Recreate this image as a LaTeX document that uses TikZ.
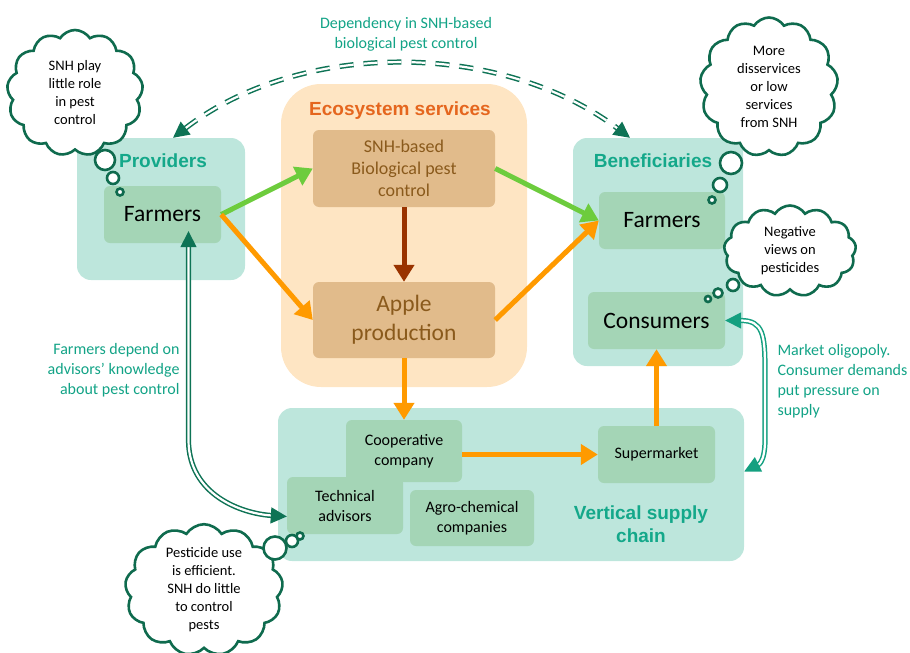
\documentclass[tikz,border=0pt]{standalone}
\usepackage{fontspec}
\setmainfont{Carlito}
\newfontfamily\headfont{Liberation Sans}
\usepackage{tikz}
\usetikzlibrary{shapes,arrows.meta}
\definecolor{groupTeal}{HTML}{BDE6DC}
\definecolor{actorGreen}{HTML}{A4D5B6}
\definecolor{esPeach}{HTML}{FEE5C3}
\definecolor{esTan}{HTML}{E1BB8B}
\definecolor{esText}{HTML}{8A5A1C}
\definecolor{esHead}{HTML}{E5661E}
\definecolor{tealHead}{HTML}{14A88A}
\definecolor{tealNote}{HTML}{12A386}
\definecolor{cloudGreen}{HTML}{0F6B4E}
\definecolor{linkGreen}{HTML}{0E7355}
\definecolor{linkLight}{HTML}{14A080}
\definecolor{flowGreen}{HTML}{6DCC3D}
\definecolor{flowOrange}{HTML}{FF9A00}
\definecolor{flowRed}{HTML}{993300}
\tikzstyle{group} = [rectangle, fill=groupTeal, rounded corners=14pt, inner sep=0pt]
\tikzstyle{actor} = [rectangle, fill=actorGreen, rounded corners=6pt,
align=center, inner sep=0pt, font=\fontsize{16}{20}\selectfont]
\tikzstyle{line} = [draw, line width=5pt, -{Triangle[length=17pt,width=20pt]}]
\tikzset{
  service/.style = {actor, fill=esTan, text=esText},
  big/.style     = {font=\fontsize{23.5}{29}\selectfont},
  head/.style    = {font=\headfont\bfseries\fontsize{19}{23}\selectfont,
                    text=tealHead, align=center},
  note/.style    = {font=\fontsize{16}{20}\selectfont, text=tealNote},
  thought/.style = {cloud, cloud puffs=13, cloud puff arc=115, draw=cloudGreen,
                    line width=2.6pt, fill=white, align=center, inner sep=0pt,
                    font=\fontsize{14.5}{18}\selectfont},
  bubble/.style  = {circle, draw=cloudGreen, line width=2.6pt, fill=white, inner sep=0pt},
  link/.style    = {draw=linkGreen, double=white, double distance=2.2pt, line width=1.5pt,
                    {Triangle[length=16pt,width=16pt]}-{Triangle[length=16pt,width=16pt]}}
}
\begin{document}
\begin{tikzpicture}[x=1pt,y=-1pt]
	\useasboundingbox (0,0) rectangle (910,653);
	% Place groups
	\node [group, minimum width=168pt, minimum height=142pt] (providers) at (161,209) {};
	\node [group, fill=esPeach, rounded corners=40pt, minimum width=246pt, minimum height=303pt] (ecoServices) at (404,235.5) {};
	\node [group, minimum width=170pt, minimum height=228pt] (beneficiaries) at (658,252) {};
	\node [group, minimum width=466pt, minimum height=153pt] (supplyChain) at (511,484.5) {};
	\node [head] (providersHead) at (163,161) {Providers};
	\node [head, text=esHead] (ecoHead) at (400,111) {Ecosystem services};
	\node [head] (beneficiariesHead) at (653,161) {Beneficiaries};
	\node [head] (supplyHead) at (641,524) {Vertical supply\\chain};
	% Level 2
	\node [actor, big, minimum width=117pt, minimum height=57pt] (farmersP) at (162.5,214.5) {Farmers};
	\node [service, font=\fontsize{18}{22}\selectfont, minimum width=182pt, minimum height=77pt] (snhControl) at (404,168.5) {SNH-based\\Biological pest\\control};
	\node [service, big, minimum width=182pt, minimum height=76pt, below of=snhControl, node distance=151.5pt] (appleProd) {Apple\\production};
	\node [actor, big, minimum width=126pt, minimum height=57pt] (farmersB) at (662,220.5) {Farmers};
	\node [actor, big, minimum width=137pt, minimum height=57pt, below of=farmersB, node distance=100pt, xshift=-5.5pt] (consumers) {Consumers};
	% Level 3
	\node [actor, minimum width=116pt, minimum height=62pt] (coopCompany) at (404,451) {Cooperative\\company};
	\node [actor, minimum width=116pt, minimum height=57pt] (techAdvisors) at (345,505.5) {Technical\\advisors};
	\node [actor, minimum width=124pt, minimum height=56pt] (agroChem) at (472,518) {Agro-chemical\\companies};
	\node [actor, minimum width=117pt, minimum height=57pt] (supermarket) at (656.5,454.5) {Supermarket};
	% Draw edges
	\path [line, flowGreen] (farmersP.east) -- (snhControl.west);
	\path [line, flowGreen] (snhControl.east) -- (farmersB.west);
	\path [line, flowOrange] (farmersP.east) -- (appleProd.west);
	\path [line, flowOrange] (appleProd.east) -- (farmersB.west);
	\path [line, flowRed] (snhControl.south) -- (appleProd.north);
	\path [line, flowOrange] (appleProd.south) -- (coopCompany.north);
	\path [line, flowOrange] (coopCompany.east |- supermarket) -- (supermarket.west);
	\path [line, flowOrange] (supermarket.north) -- (consumers.south);
	% Dependencies
	\path [link, dash pattern=on 14pt off 10pt] ([xshift=12pt]providers.north) .. controls (300,40) and (500,40) .. ([xshift=-28pt]beneficiaries.north);
	\path [link, shorten <=-12pt] ([xshift=26pt]farmersP.south) -- ([xshift=26pt]farmersP.south |- 0,440) .. controls +(0,55) and +(-45,-3) .. ([yshift=-11pt]techAdvisors.west);
	\path [link, linkLight] (consumers.east) .. controls +(38,0) and +(0,-35) .. (765,370) -- (765,440) .. controls +(0,25) and +(12,-6) .. ([yshift=13pt]supplyChain.east);
	\node [note, align=center] (depNote) at (406,34) {Dependency in SNH-based\\biological pest control};
	\node [note, align=right, anchor=east] (advisorNote) at (183,370) {Farmers depend on\\advisors’ knowledge\\about pest control};
	\node [note, align=left, anchor=west] (marketNote) at (774,381) {Market oligopoly.\\Consumer demands\\put pressure on\\supply};
	% Thoughts
	\node [thought, minimum width=136pt, minimum height=126pt] (thoughtProv) at (75,93) {SNH play\\little role\\in pest\\control};
	\node [bubble, minimum size=20pt] (bubbleProvA) at (105,160) {};
	\node [bubble, minimum size=12pt] (bubbleProvB) at (113,178) {};
	\node [bubble, minimum size=7pt] (bubbleProvC) at (120,192) {};
	\node [thought, minimum width=138pt, minimum height=139pt] (thoughtBen) at (769,87) {More\\disservices\\or low\\services\\from SNH};
	\node [bubble, minimum size=22pt] (bubbleBenA) at (731,163) {};
	\node [bubble, minimum size=14pt] (bubbleBenB) at (720,185) {};
	\node [bubble, minimum size=7pt] (bubbleBenC) at (712,200) {};
	\node [thought, minimum width=132pt, minimum height=84pt] (thoughtCons) at (790,251) {Negative\\views on\\pesticides};
	\node [bubble, minimum size=12pt] (bubbleConsA) at (733,285) {};
	\node [bubble, minimum size=9pt] (bubbleConsB) at (718,293) {};
	\node [bubble, minimum size=6pt] (bubbleConsC) at (708,299) {};
	\node [thought, minimum width=158pt, minimum height=124pt] (thoughtAdv) at (204,590) {Pesticide use\\is efficient.\\SNH do little\\to control\\pests};
	\node [bubble, minimum size=23pt] (bubbleAdvA) at (275,548) {};
	\node [bubble, minimum size=12pt] (bubbleAdvB) at (292,541) {};
	\node [bubble, minimum size=7pt] (bubbleAdvC) at (300,536) {};
\end{tikzpicture}
\end{document}
